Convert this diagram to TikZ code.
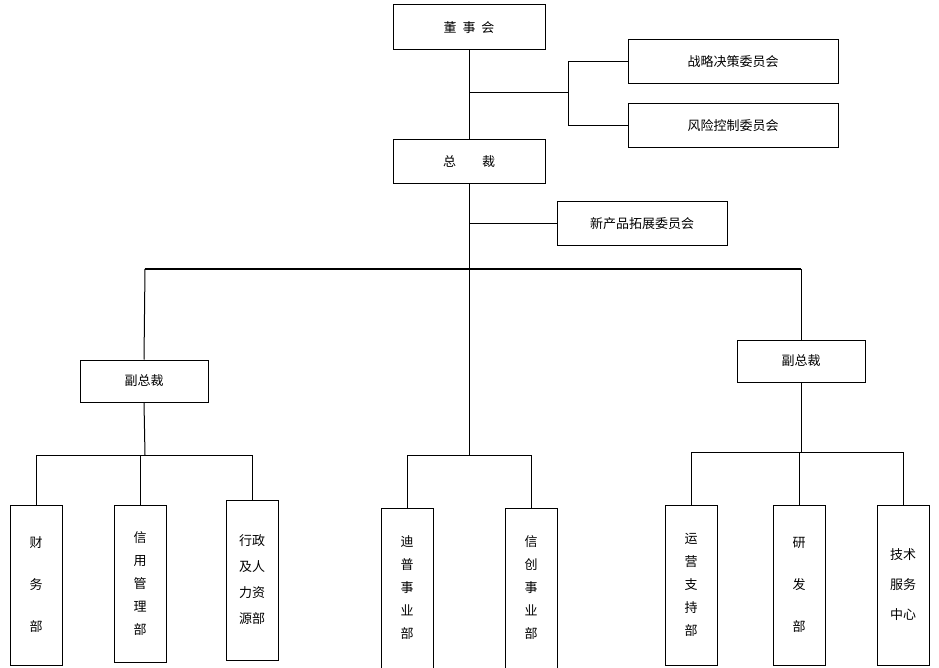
\documentclass[tikz,border=0pt]{standalone}
\usepackage{fontspec}
\newfontfamily\cjk{Noto Sans CJK SC}
\begin{document}
\begin{tikzpicture}[x=1pt,y=-1pt,
 box/.style={draw,line width=1pt,inner sep=0pt,font=\cjk\fontsize{13}{16}\selectfont,align=center},
 ln/.style={line width=1pt}]
\useasboundingbox (0,0) rectangle (939,668);
\newcommand{\bx}[6]{\node[box,minimum width=#4-#2,minimum height=#5-#3] (#1) at ({(#2+#4)/2},{(#3+#5)/2}) {#6};}
\bx{ds}{393}{5}{545}{50}{董\ \ 事\ \ 会}
\bx{zl}{628}{40}{838}{84}{战略决策委员会}
\bx{fx}{628}{104}{838}{148}{风险控制委员会}
\bx{zc}{393}{140}{545}{184}{总\qquad 裁}
\bx{xc}{557}{202}{727}{246}{新产品拓展委员会}
\bx{vl}{80}{360}{208}{402}{副总裁}
\bx{vr}{737}{340}{865}{382}{副总裁}
\bx{b1}{10}{505}{62}{665}{财\\[26pt]务\\[26pt]部}
\bx{b2}{114}{505}{166}{662}{信\\[7pt]用\\[7pt]管\\[7pt]理\\[7pt]部}
\bx{b3}{226}{500}{278}{660}{行政\\[10pt]及人\\[10pt]力资\\[10pt]源部}
\bx{b4}{381}{508}{433}{668}{迪\\[7pt]普\\[7pt]事\\[7pt]业\\[7pt]部}
\bx{b5}{505}{508}{557}{668}{信\\[7pt]创\\[7pt]事\\[7pt]业\\[7pt]部}
\bx{b6}{665}{505}{717}{665}{运\\[7pt]营\\[7pt]支\\[7pt]持\\[7pt]部}
\bx{b7}{773}{505}{825}{665}{研\\[26pt]发\\[26pt]部}
\bx{b8}{877}{505}{929}{665}{技术\\[14pt]服务\\[14pt]中心}
\coordinate (a1) at (469,93);
\draw[ln] (ds.south) -- (zc.north);
\draw[ln] (a1) -- (568,93);
\draw[ln] (zl.west) -- (568,62) -- (568,126) -- (fx.west);
\draw[ln] (469,224) -- (xc.west);
\draw[ln] (zc.south) -- (469,455);
\draw[ln] (145,269) -- (801,269);
\draw[ln] (145,269) -- (vl.north);
\draw[ln] (801,269) -- (vr.north);
\draw[ln] (vl.south) -- (145,455);
\draw[ln] (b1.north) -- (36,455) -- (252,455) -- (b3.north);
\draw[ln] (140,455) -- (b2.north);
\draw[ln] (b4.north) -- (407,455) -- (531,455) -- (b5.north);
\draw[ln] (vr.south) -- (801,452);
\draw[ln] (b6.north) -- (691,452) -- (903,452) -- (b8.north);
\draw[ln] (799,452) -- (b7.north);
\end{tikzpicture}
\end{document}
